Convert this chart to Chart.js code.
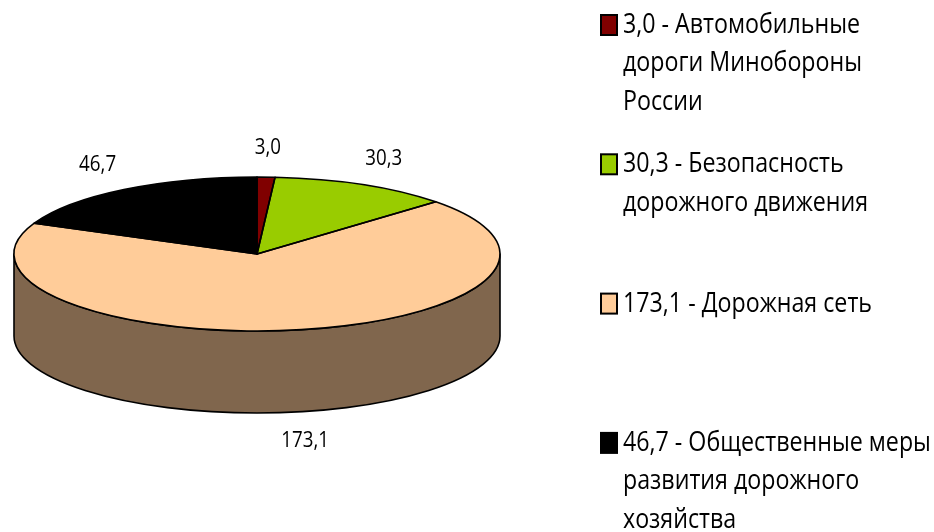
<!DOCTYPE html>
<html>
<head>
<meta charset="utf-8">
<style>
  html, body { margin: 0; padding: 0; background: #fff; }
  #wrap { width: 934px; height: 532px; }
</style>
<script src="https://cdn.jsdelivr.net/npm/chart.js@4.4.0/dist/chart.umd.min.js"></script>
</head>
<body>
<div id="wrap"><canvas id="pie" width="934" height="532"></canvas></div>
<script>
// data
const values = [3.0, 30.3, 173.1, 46.7];
const valueLabels = ['3,0', '30,3', '173,1', '46,7'];
const categories = [
    'Автомобильные дороги Минобороны России',
    'Безопасность дорожного движения',
    'Дорожная сеть',
    'Общественные меры развития дорожного хозяйства'
];
// legend line breaks as in the picture
const legendLines = [
    ['3,0 - Автомобильные', 'дороги Минобороны', 'России'],
    ['30,3 - Безопасность', 'дорожного движения'],
    ['173,1 - Дорожная сеть'],
    ['46,7 - Общественные меры', 'развития дорожного', 'хозяйства']
];
const colors = ['#800000', '#99CC00', '#FFCC99', '#000000'];

const FONT = '"Open Sans", "DejaVu Sans", sans-serif';
const TILT = 0.317;   // ry / rx
const DEPTH = 82;     // height of the side wall

function darken(hex, f) {
    const n = parseInt(hex.slice(1), 16);
    const r = Math.round(((n >> 16) & 255) * f);
    const g = Math.round(((n >> 8) & 255) * f);
    const b = Math.round((n & 255) * f);
    return 'rgb(' + r + ',' + g + ',' + b + ')';
}

function geom(chart) {
    const arc = chart.getDatasetMeta(0).data[0];
    return { cx: arc.x, cy: arc.y, rx: arc.outerRadius, ry: arc.outerRadius * TILT };
}

// squash the pie into an ellipse and give it a side wall
const pie3d = {
    id: 'pie3d',
    beforeDatasetsDraw(chart) {
        const ctx = chart.ctx;
        const { cx, cy, rx, ry } = geom(chart);
        const arcs = chart.getDatasetMeta(0).data;
        ctx.save();
        ctx.lineWidth = 1.6;
        ctx.strokeStyle = '#000';
        ctx.lineJoin = 'round';
        arcs.forEach((arc, i) => {
            const a = Math.max(arc.startAngle, 0);
            const b = Math.min(arc.endAngle, Math.PI);
            if (b <= a) return;
            ctx.beginPath();
            ctx.ellipse(cx, cy, rx, ry, 0, a, b);
            ctx.ellipse(cx, cy + DEPTH, rx, ry, 0, b, a, true);
            ctx.closePath();
            ctx.fillStyle = darken(colors[i], 0.5);
            ctx.fill();
            ctx.stroke();
        });
        ctx.translate(cx, cy);
        ctx.scale(1, TILT);
        ctx.translate(-cx, -cy);
    },
    afterDatasetsDraw(chart) {
        const ctx = chart.ctx;
        ctx.restore();
        const { cx, cy, rx, ry } = geom(chart);
        ctx.save();
        ctx.lineWidth = 1.6;
        ctx.strokeStyle = '#000';
        ctx.lineJoin = 'round';
        chart.getDatasetMeta(0).data.forEach(arc => {
            ctx.beginPath();
            ctx.moveTo(cx, cy);
            ctx.ellipse(cx, cy, rx, ry, 0, arc.startAngle, arc.endAngle);
            ctx.closePath();
            ctx.stroke();
        });
        ctx.restore();
    }
};

function squeezedText(ctx, text, x, y, sx) {
    ctx.save();
    ctx.translate(x, y);
    ctx.scale(sx, 1);
    ctx.fillText(text, 0, 0);
    ctx.restore();
}

// value labels outside the slices
const valueLabelsPlugin = {
    id: 'valueLabels',
    afterDraw(chart) {
        const ctx = chart.ctx;
        const { cx, cy, rx, ry } = geom(chart);
        ctx.save();
        ctx.font = '21px ' + FONT;
        ctx.fillStyle = '#000';
        ctx.textAlign = 'center';
        ctx.textBaseline = 'middle';
        const sx = 37 / ctx.measureText('46,7').width;
        chart.getDatasetMeta(0).data.forEach((arc, i) => {
            const mid = (arc.startAngle + arc.endAngle) / 2;
            const s = Math.sin(mid);
            const x = cx + (rx + 48) * Math.cos(mid);
            const y = cy + (ry + 29) * s + (s > 0 ? DEPTH : 0);
            squeezedText(ctx, valueLabels[i], x, y, sx);
        });
        ctx.restore();
    }
};

// legend on the right with wrapped lines
const legendPlugin = {
    id: 'sideLegend',
    afterDraw(chart) {
        const ctx = chart.ctx;
        ctx.save();
        ctx.font = '28px ' + FONT;
        ctx.textBaseline = 'middle';
        ctx.textAlign = 'left';
        const sx = 249 / ctx.measureText('173,1 - Дорожная сеть').width;
        legendLines.forEach((lines, i) => {
            const y0 = 25 + i * 139.3;
            ctx.fillStyle = colors[i];
            ctx.fillRect(601, y0 - 10, 16, 20);
            ctx.lineWidth = 2;
            ctx.strokeStyle = '#000';
            ctx.strokeRect(601, y0 - 10, 16, 20);
            ctx.fillStyle = '#000';
            lines.forEach((t, j) => squeezedText(ctx, t, 623, y0 + j * 38.5, sx));
        });
        ctx.restore();
    }
};

const ctx = document.getElementById('pie').getContext('2d');
new Chart(ctx, {
    type: 'pie',
    data: {
        labels: categories,
        datasets: [{
            data: values,
            backgroundColor: colors,
            borderWidth: 0
        }]
    },
    options: {
        responsive: false,
        animation: false,
        layout: { padding: { left: 14, right: 434, top: 11, bottom: 35 } },
        plugins: {
            legend: { display: false },
            tooltip: { enabled: false }
        }
    },
    plugins: [pie3d, valueLabelsPlugin, legendPlugin]
});
</script>
</body>
</html>
